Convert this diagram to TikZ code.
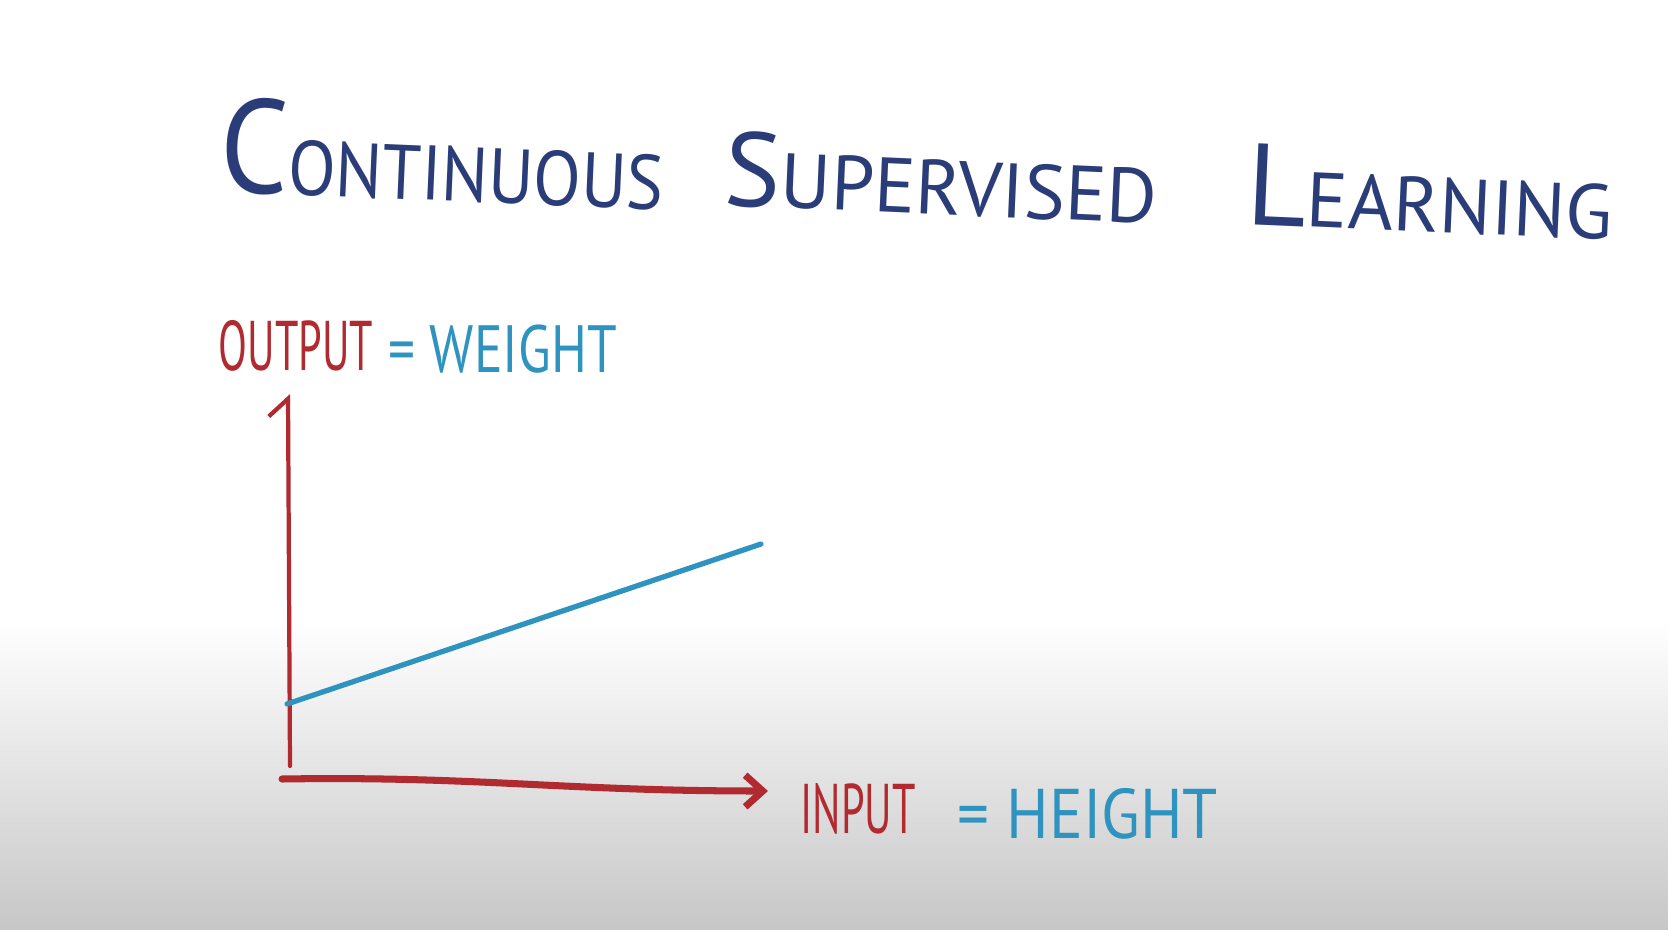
\documentclass[tikz,border=0pt]{standalone}
\usepackage{fontspec}
\setmainfont{PT Sans}
\newfontfamily\widehand{PT Sans}
\newfontfamily\handfont{PT Sans}[FakeStretch=0.9]
\newfontfamily\midhand{PT Sans}[FakeStretch=0.8]
\newfontfamily\narrowhand{PT Sans}[FakeStretch=0.6]
\usetikzlibrary{arrows.meta}
\definecolor{titleblue}{HTML}{2A3D78}
\definecolor{penred}{HTML}{B02A30}
\definecolor{penblue}{HTML}{2E93BF}
\begin{document}
\begin{tikzpicture}[x=0.01cm, y=-0.01cm,
  title/.style={text=titleblue, font=\handfont\fontsize{22}{22}\selectfont, inner sep=0pt, anchor=base west, rotate=-2.5},
  redlabel/.style={text=penred, font=\narrowhand\fontsize{20}{20}\selectfont, inner sep=0pt, anchor=base west},
  bluelabel/.style={text=penblue, font=\handfont\fontsize{20}{20}\selectfont, inner sep=0pt, anchor=base west},
  axis/.style={draw=penred, line width=1.2pt, line cap=round},
  weightline/.style={draw=penblue, line width=1.5pt, line cap=round}]
\useasboundingbox (0,0) rectangle (1668,930);
% whiteboard
\fill[white] (0,0) rectangle (1668,930);
\shade[top color=white, bottom color=black!22] (0,620) rectangle (1668,930);
% title
\node[title] (t1) at (218,191) {{\fontsize{38}{38}\selectfont C}ONTINUOUS};
\node[title, font=\widehand\fontsize{22}{22}\selectfont] (t2) at (723,205) {{\fontsize{30}{30}\selectfont S}UPERVISED};
\node[title, font=\widehand\fontsize{22}{22}\selectfont] (t3) at (1245,224) {{\fontsize{33}{33}\selectfont L}EARNING};
% axis labels
\node[redlabel] (out) at (218,370) {OUTPUT};
\node[bluelabel, font=\midhand\fontsize{19}{19}\selectfont] (wt) at (388,372) {= WEIGHT};
\node[redlabel] (in) at (800,833) {INPUT};
\node[bluelabel] (ht) at (957,838) {= HEIGHT};
% axes
\coordinate (origin) at (290,766);
\coordinate (ytop) at (288,394);
\coordinate (xstart) at (282,779);
\coordinate (xend) at (768,791);
\draw[axis, -{Straight Barb[left, length=5pt, width=11pt]}] (origin) -- (ytop);
\draw[axis, line width=2pt, -{Straight Barb[length=5pt, width=9pt]}] (xstart) .. controls (480,776) and (560,791) .. (xend);
% data trend
\coordinate (w0) at (287,704);
\coordinate (w1) at (761,544);
\draw[weightline] (w0) -- (w1);
\end{tikzpicture}
\end{document}
